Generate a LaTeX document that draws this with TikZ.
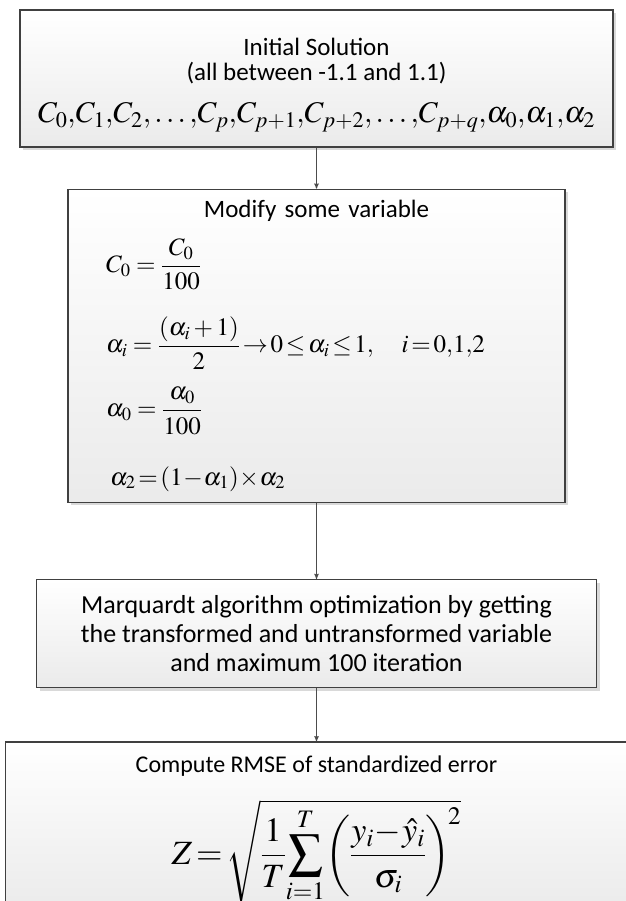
\documentclass[tikz,border=0pt]{standalone}
\usepackage{amsmath}
\usepackage{mathptmx}
\usepackage[no-math]{fontspec}
\setmainfont{Carlito}
\usetikzlibrary{arrows,chains,positioning,scopes,shadows}
\tikzset{>=stealth',every on chain/.append style={join},
         every join/.style={->,draw=black!70,line width=0.9pt}}
\tikzset{flowbox/.style={draw=black!75, line width=1.3pt, top color=white,
           bottom color=black!8, align=center, inner sep=0pt,
           font=\boxfont,
           drop shadow={shadow xshift=3pt, shadow yshift=-3pt,
                        fill=black!15, opacity=1}}}
\newcommand{\boxfont}{\fontsize{24}{29}\selectfont}
\newcommand{\eqfont}[1]{\fontsize{#1}{#1}\selectfont}

\begin{document}
\begin{tikzpicture}[x=1pt,y=1pt]
  \useasboundingbox (0,0) rectangle (625,-901);
  \node[flowbox, minimum width=593pt, minimum height=137pt,
        font=\fontsize{25}{25}\selectfont] (init) at (316.5,-78.5)
    {\rule{0pt}{31pt}Initial Solution\\ (all between -1.1 and 1.1)\\[17pt]
     \eqfont{30}$C_0{,}C_1{,}C_2{,}\ldots{,}C_p{,}C_{p+1}{,}C_{p+2}{,}\ldots{,}C_{p+q}{,}\alpha_0{,}\alpha_1{,}\alpha_2$};
  \node[flowbox, minimum width=497pt, minimum height=313pt, text width=421pt,
        align=left, font=\fontsize{25}{25}\selectfont,
        below=41pt of init] (modify)
    {\makebox[\hsize]{Modify some variable}\\[16pt]
     \eqfont{25}%
     $C_0=\dfrac{C_0}{100}$\\[26pt]
     $\alpha_i=\dfrac{(\alpha_i+1)}{2}\!\rightarrow\! 0\!\le\!\alpha_i\!\le\! 1,\quad i\!=\!0{,}1{,}2$\\[17pt]
     $\alpha_0=\dfrac{\alpha_0}{100}$\\[31pt]
     \hspace*{4pt}$\alpha_2\!=\!(1\!-\!\alpha_1)\!\times\!\alpha_2$};
  \node[flowbox, minimum width=560pt, minimum height=108pt,
        font=\fontsize{26}{29}\selectfont,
        below=76pt of modify] (marq)
    {Marquardt algorithm optimization by getting\\
     the transformed and untransformed variable\\
     and maximum 100 iteration};
  \node[flowbox, minimum width=622pt, inner ysep=8pt,
        below=53pt of marq] (rmse)
    {\rule{0pt}{23pt}Compute RMSE of standardized error\\[22pt]
     \eqfont{34}%
     $\displaystyle Z\!=\!\sqrt{\frac{1}{T}\!\sum_{i=1}^{T}\!\left(\frac{y_i\!-\!\hat{y}_i}{\sigma_i}\right)^{\!2}}$%
     \rule[-30pt]{0pt}{30pt}};
  { [start chain] \chainin (init);
    \chainin (modify);
    \chainin (marq);
    \chainin (rmse); }
\end{tikzpicture}
\end{document}
